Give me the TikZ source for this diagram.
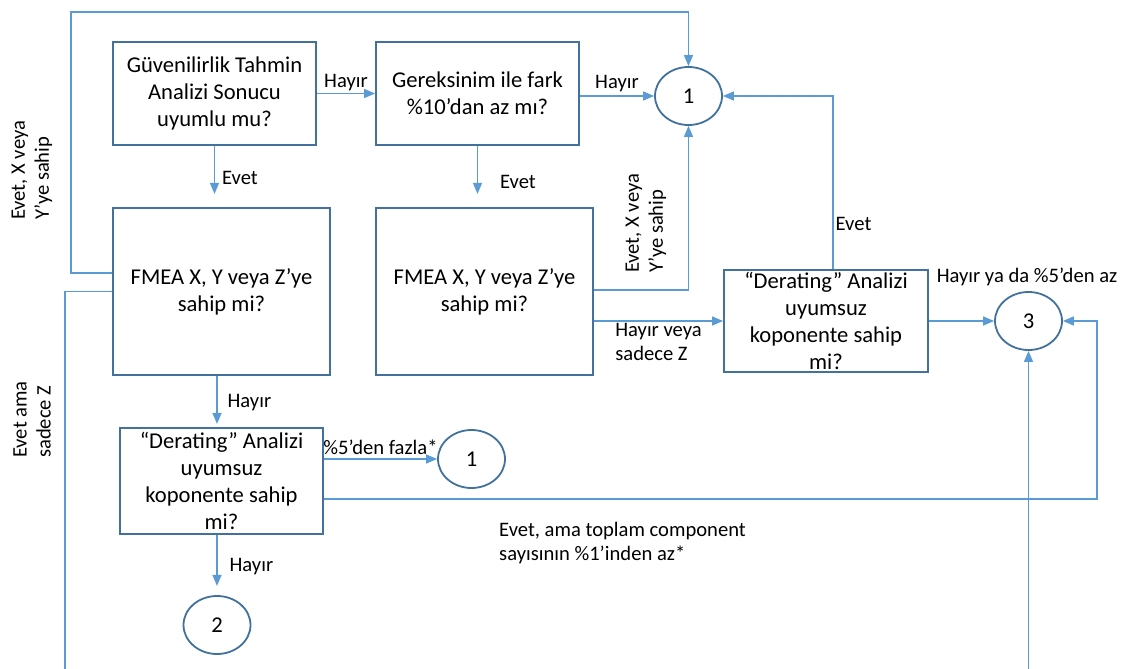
\documentclass[tikz,border=0pt]{standalone}
\usepackage{fontspec}
\setmainfont{Carlito}
\usepackage{tikz}
\usetikzlibrary{shapes,arrows.meta}
\definecolor{boxblue}{HTML}{41719C}
\definecolor{lineblue}{HTML}{5B9BD5}

\begin{document}
\begin{tikzpicture}[x=1pt,y=-1pt]
      \tikzstyle{point} = [coordinate]
      \tikzstyle{box} = [rectangle, draw=boxblue, line width=1.8pt, align=center, inner sep=0pt, font=\fontsize{22.6}{27}\selectfont]
      \tikzstyle{conn} = [ellipse, draw=boxblue, line width=1.8pt, minimum width=67pt, minimum height=58pt, inner sep=0pt, font=\fontsize{22.6}{27}\selectfont]
      \tikzstyle{link} = [draw=lineblue, line width=1.3pt, >={Triangle[length=11pt,width=9pt]}]
      \tikzstyle{lbl} = [font=\fontsize{20.6}{24}\selectfont, inner sep=2pt]
      \useasboundingbox (0,0) rectangle (1124,669);
      % decision boxes
      \node (gtah) [box, minimum width=203pt, minimum height=103pt] at (214.5,93.5) {Güvenilirlik Tahmin\\Analizi Sonucu\\uyumlu mu?};
      \node (gerek) [box, minimum width=203pt, minimum height=103pt] at (477.5,93.5) {Gereksinim ile fark\\\%10’dan az mı?};
      \node (fmeaL) [box, minimum width=217pt, minimum height=167pt] at (221.5,291.5) {FMEA X, Y veya Z’ye\\sahip mi?};
      \node (fmeaM) [box, minimum width=217pt, minimum height=167pt] at (484.5,291.5) {FMEA X, Y veya Z’ye\\sahip mi?};
      \node (derR) [box, minimum width=204pt, minimum height=102pt] at (826,321) {“Derating” Analizi\\uyumsuz\\koponente sahip\\mi?};
      \node (derL) [box, minimum width=203pt, minimum height=106pt] at (221.5,481) {“Derating” Analizi\\uyumsuz\\koponente sahip\\mi?};
      % connectors
      \node (c1a) [conn] at (688.5,96) {1};
      \node (c3) [conn] at (1028.5,321) {3};
      \node (c1b) [conn] at (471.5,459) {1};
      \node (c2) [conn] at (217,625) {2};
      \node (bendA) [point] at (71,12) {};
      \node (botL) [point] at (65,669) {};
      \node (botR) [point] at (1028.5,669) {};
      % arrows
      \draw [link,->] (gtah.east) -- node[lbl, above]{Hayır} (gerek.west);
      \draw [link,->] (gtah.south) -- ++(0,48) node[lbl, pos=0.67, right, xshift=5pt]{Evet};
      \draw [link,->] (gerek.east |- c1a) -- node[lbl, above, yshift=2pt]{Hayır} (c1a.west);
      \draw [link,->] (gerek.south) -- ++(0,48) node[lbl, pos=0.75, right, xshift=20pt]{Evet};
      \draw [link,->] ([yshift=18.5pt]fmeaL.west) -| (bendA) -| (c1a);
      \draw [link] (fmeaL.west) -| (botL);
      \draw [link,->] ([yshift=1.5pt]fmeaM.east) -| (c1a);
      \draw [link,->] ([yshift=-29.5pt]fmeaM.east) -- node[lbl, below, align=left]{Hayır veya\\sadece Z} (derR.west);
      \draw [link,->] ([xshift=7pt]derR.north) |- node[lbl, pos=0.13, right]{Evet} (c1a);
      \draw [link,->] (derR.east) -- (c3.west);
      \draw [link,->] ([xshift=-4.5pt]fmeaL.south) -- ++(0,48) node[lbl, pos=0.56, right, xshift=8pt]{Hayır};
      \draw [link,->] ([yshift=22pt]derL.east) -- node[lbl, above, yshift=2pt]{\%5’den fazla*} (c1b.west);
      \draw [link,->] ([yshift=-18pt]derL.east) -- ++(773,0) |- (c3.east);
      \draw [link,->] ([xshift=-4.5pt]derL.south) -- ++(0,51) node[lbl, pos=0.63, right, xshift=10pt]{Hayır};
      \draw [link,->] (botR) -- (c3.south);
      % free labels
      \node (lblXY1) [lbl, rotate=90, align=left] at (32,170.5) {Evet, X veya\\Y’ye sahip};
      \node (lblZ) [lbl, rotate=90, align=left] at (32,419.5) {Evet ama\\sadece Z};
      \node (lblXY2) [lbl, rotate=90, align=left] at (646,223.5) {Evet, X veya\\Y’ye sahip};
      \node (lblaz) [lbl] at (1027,277) {Hayır ya da \%5’den az};
      \node (lblcomp) [lbl, align=left, anchor=west, inner sep=0pt] at (499,543) {Evet, ama toplam component\\sayısının \%1’inden az*};
\end{tikzpicture}
\end{document}
